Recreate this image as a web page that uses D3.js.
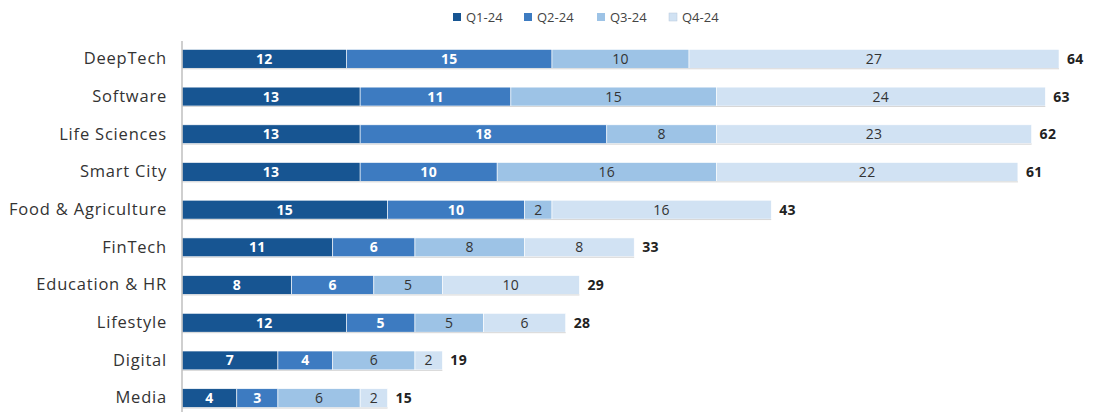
<!DOCTYPE html>
<html>
<head>
<meta charset="utf-8">
<script src="https://cdn.jsdelivr.net/npm/d3@7/dist/d3.min.js"></script>
<style>
  html, body { margin: 0; padding: 0; background: #fff; }
  svg { display: block; }
</style>
</head>
<body>
<svg id="chart" width="1099" height="412"></svg>
<script>
// Sectors and quarterly counts
const categories = ["DeepTech", "Software", "Life Sciences", "Smart City", "Food & Agriculture",
                    "FinTech", "Education & HR", "Lifestyle", "Digital", "Media"];
const seriesNames = ["Q1-24", "Q2-24", "Q3-24", "Q4-24"];
const q1 = [12, 13, 13, 13, 15, 11, 8, 12, 7, 4];
const q2 = [15, 11, 18, 10, 10, 6, 6, 5, 4, 3];
const q3 = [10, 15, 8, 16, 2, 8, 5, 5, 6, 6];
const q4 = [27, 24, 23, 22, 16, 8, 10, 6, 2, 2];
const totals = [64, 63, 62, 61, 43, 33, 29, 28, 19, 15];

const colors = ["#175592", "#3d7bc1", "#9dc3e6", "#d1e2f3"];
const labelColors = ["#ffffff", "#ffffff", "#333333", "#333333"];
const labelWeights = ["bold", "bold", "normal", "normal"];

const rows = categories.map((c, i) => ({
  category: c, "Q1-24": q1[i], "Q2-24": q2[i], "Q3-24": q3[i], "Q4-24": q4[i], total: totals[i]
}));

const svg = d3.select("#chart");
const margin = { top: 40, right: 40, bottom: 0, left: 182 };

const x = d3.scaleLinear().domain([0, 64]).range([margin.left, margin.left + 877]);
const y = d3.scaleBand().domain(categories).range([40, 417]).paddingInner(0.5).paddingOuter(0.25);

const stacked = d3.stack().keys(seriesNames)(rows);

const font = "'Open Sans', 'DejaVu Sans', sans-serif";

// Stacked segments
const layers = svg.append("g").selectAll("g")
  .data(stacked)
  .join("g")
  .attr("fill", (d, i) => colors[i]);

layers.selectAll("rect")
  .data(d => d)
  .join("rect")
  .attr("x", d => x(d[0]))
  .attr("y", d => y(d.data.category))
  .attr("width", d => x(d[1]) - x(d[0]))
  .attr("height", y.bandwidth())
  .attr("stroke", "#ffffff")
  .attr("stroke-width", 0.6);

// Soft lower edge under each bar
svg.append("g").selectAll("line")
  .data(rows)
  .join("line")
  .attr("x1", x(0))
  .attr("x2", d => x(d.total))
  .attr("y1", d => y(d.category) + y.bandwidth() + 0.5)
  .attr("y2", d => y(d.category) + y.bandwidth() + 0.5)
  .attr("stroke", "#d6d6d6")
  .attr("stroke-width", 1);

// Segment values
stacked.forEach((layer, i) => {
  svg.append("g").selectAll("text")
    .data(layer)
    .join("text")
    .attr("x", d => (x(d[0]) + x(d[1])) / 2)
    .attr("y", d => y(d.data.category) + y.bandwidth() / 2)
    .attr("dy", "0.36em")
    .attr("text-anchor", "middle")
    .attr("font-family", font)
    .attr("font-size", 14)
    .attr("letter-spacing", 0.3)
    .attr("font-weight", labelWeights[i])
    .attr("fill", labelColors[i])
    .text(d => d[1] - d[0]);
});

// Totals
svg.append("g").selectAll("text")
  .data(rows)
  .join("text")
  .attr("x", d => x(d.total) + 8)
  .attr("y", d => y(d.category) + y.bandwidth() / 2)
  .attr("dy", "0.36em")
  .attr("font-family", font)
  .attr("font-size", 14)
  .attr("letter-spacing", 0.3)
  .attr("font-weight", "bold")
  .attr("fill", "#222")
  .text(d => d.total);

// Category axis
const yAxis = d3.axisLeft(y).tickSize(0).tickPadding(15);
const axisG = svg.append("g")
  .attr("transform", `translate(${margin.left},0)`)
  .call(yAxis);
axisG.select(".domain").remove();
axisG.selectAll("text")
  .attr("font-family", font)
  .attr("font-size", 16.5)
  .attr("letter-spacing", 0.8)
  .attr("fill", "#333");

svg.append("line")
  .attr("x1", margin.left).attr("x2", margin.left)
  .attr("y1", 41).attr("y2", 412)
  .attr("stroke", "#bfbfbf")
  .attr("stroke-width", 1.5);

// Legend
const legendX = [453, 524, 597, 669];
const legend = svg.append("g").selectAll("g")
  .data(seriesNames)
  .join("g")
  .attr("transform", (d, i) => `translate(${legendX[i]},17)`);
legend.append("rect")
  .attr("x", 0).attr("y", -4)
  .attr("width", 8).attr("height", 8)
  .attr("fill", (d, i) => colors[i])
  .attr("stroke", (d, i) => i === 3 ? "#b8c8da" : "none")
  .attr("stroke-width", 0.5);
legend.append("text")
  .attr("x", 13).attr("y", 0)
  .attr("dy", "0.36em")
  .attr("font-family", font)
  .attr("font-size", 13)
  .attr("fill", "#444")
  .text(d => d);
</script>
</body>
</html>
